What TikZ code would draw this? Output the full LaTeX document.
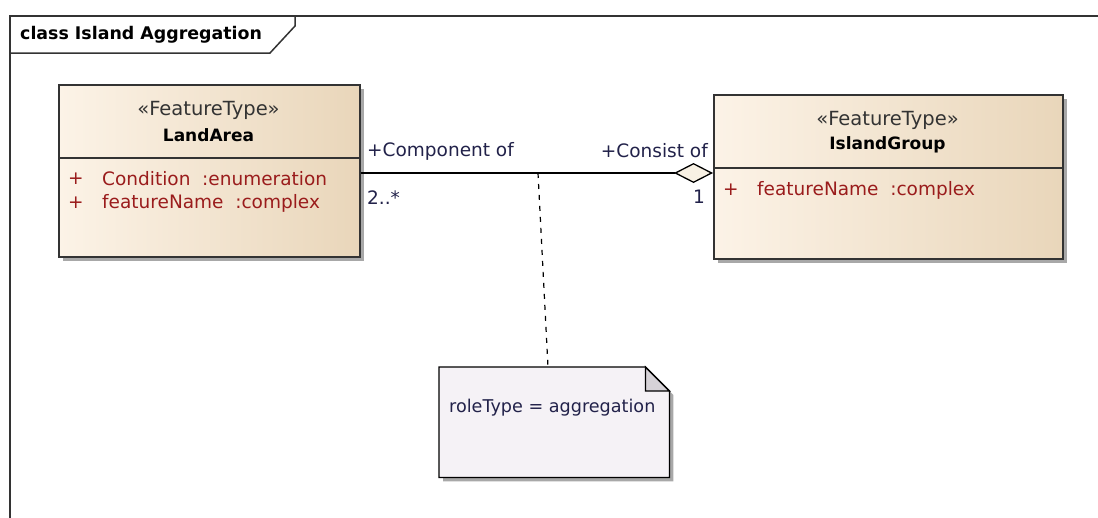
\documentclass[tikz,border=0pt]{standalone}
\usepackage{fontspec}
\setmainfont{DejaVu Sans}
\usetikzlibrary{arrows.meta,shadows,calc}
\definecolor{frameclr}{HTML}{333333}
\definecolor{boxleft}{HTML}{FCF3E7}
\definecolor{boxright}{HTML}{E9D6BA}
\definecolor{attrclr}{HTML}{9A1C1C}
\definecolor{roleclr}{HTML}{22224A}
\definecolor{notefill}{HTML}{F5F2F6}
\definecolor{foldfill}{HTML}{D6D2D7}
\definecolor{diafill}{HTML}{F8F1E4}
\definecolor{shadowclr}{HTML}{A8A8A8}
\tikzset{
  every node/.style={font=\fontsize{18.5}{21}\selectfont, inner sep=0pt},
  classbox/.style={draw=frameclr, line width=1.5pt, rectangle, anchor=north west,
    left color=boxleft, right color=boxright,
    drop shadow={shadow xshift=4pt, shadow yshift=-4pt, fill=shadowclr, opacity=1}},
  stereo/.style={font=\fontsize{19.5}{22}\selectfont, text=black!80},
  cname/.style={font=\fontsize{17}{20}\selectfont\bfseries, text=black},
  attr/.style={text=attrclr, anchor=west},
  role/.style={text=roleclr},
  divider/.style={draw=frameclr, line width=1.5pt},
  assoc/.style={draw=black, line width=1.3pt},
  notedash/.style={draw=black, line width=1.2pt, dash pattern=on 5pt off 6pt},
}
\begin{document}
\begin{tikzpicture}[x=1pt,y=-1pt]
\useasboundingbox (0,0) rectangle (1098,517);
\fill[white] (0,0) rectangle (1098,517);

% diagram frame
\draw[frameclr, line width=1.5pt] (10,520) -- (10,16) -- (1100,16);
\draw[frameclr, line width=1.5pt] (10,53) -- (270,53) -- (295,26) -- (295,16);
\node[anchor=west, font=\fontsize{17.4}{20}\selectfont\bfseries] (title) at (20,35) {class Island Aggregation};

% LandArea
\node[classbox, minimum width=301, minimum height=172] (land) at (58,84) {};
\draw[divider] (land.west |- 0,158) -- (land.east |- 0,158);
\node[stereo] (landst) at (208.5,110) {«FeatureType»};
\node[cname] (landnm) at (208.5,135) {LandArea};
\node[attr] (la1p) at (68,179) {+};
\node[attr] (la1) at (102,179) {Condition\ \ :enumeration};
\node[attr] (la2p) at (68,203) {+};
\node[attr] (la2) at (102,203) {featureName\ \ :complex};

% IslandGroup
\node[classbox, minimum width=349, minimum height=164] (isl) at (713,94) {};
\draw[divider] (isl.west |- 0,168) -- (isl.east |- 0,168);
\node[stereo] (islst) at (887.5,120) {«FeatureType»};
\node[cname] (islnm) at (887.5,145) {IslandGroup};
\node[attr] (ia1p) at (723,190) {+};
\node[attr] (ia1) at (757,190) {featureName\ \ :complex};

% association
\coordinate (amid) at (538,173);
\draw[assoc, -{Diamond[length=39pt, width=20pt, fill=diafill, line width=1.3pt]}]
  (land.east |- amid) -- (isl.west |- amid);
\node[role, anchor=west] (r1) at (367,151) {+Component of};
\node[role, anchor=east] (r2) at (708,151) {+Consist of};
\node[role, anchor=west] (m1) at (367,198) {2..*};
\node[role, anchor=east] (m2) at (705,197) {1};

% note
\node[rectangle, minimum width=230, minimum height=110, anchor=north west] (note) at (439,367) {};
\fill[shadowclr] ($(note.north west)+(4,4)$) -- ($(note.north east)+(-20,4)$) -- ($(note.north east)+(4,28)$) -- ($(note.south east)+(4,4)$) -- ($(note.south west)+(4,4)$) -- cycle;
\filldraw[fill=notefill, draw=black, line width=1.3pt]
  (note.north west) -- ($(note.north east)+(-24,0)$) -- ($(note.north east)+(0,24)$) -- (note.south east) -- (note.south west) -- cycle;
\filldraw[fill=foldfill, draw=black, line width=1.3pt]
  ($(note.north east)+(-24,0)$) -- ($(note.north east)+(-24,24)$) -- ($(note.north east)+(0,24)$) -- cycle;
\node[anchor=west, text=roleclr, font=\fontsize{17.6}{20}\selectfont] (notetxt) at (449,408) {roleType = aggregation};
\draw[notedash] (amid) -- ($(note.north west)+(109,0)$);
\end{tikzpicture}
\end{document}
